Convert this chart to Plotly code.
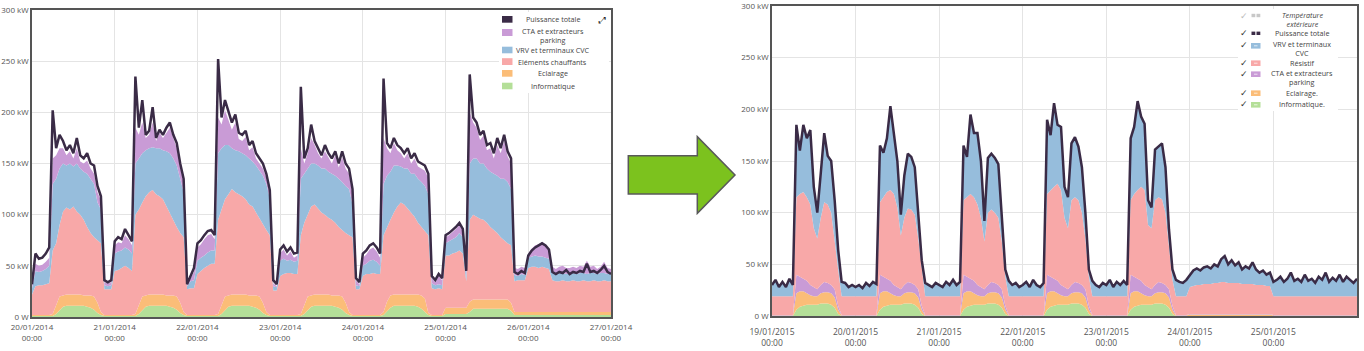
import plotly.graph_objects as go
import pandas as pd

W, H = 1364, 351

# ---------------- data : January 2014 (left chart), hourly, kW ----------------
x_2014 = pd.date_range("2014-01-20 00:00", periods=169, freq="h")

L_info = [
    1,1,1,1,1,1,1,3,7,10,11,11,11,11,11,11,10,9,7,4,2,1,1,1,
    1,1,1,1,1,1,1,3,7,10,11,11,11,11,11,11,10,9,7,4,2,1,1,1,
    1,1,1,1,1,1,1,3,7,10,11,11,11,11,11,11,10,9,7,4,2,1,1,1,
    1,1,1,1,1,1,1,3,7,10,11,11,11,11,11,11,10,9,7,4,2,1,1,1,
    1,1,1,1,1,1,2,6,9,11,11,11,11,11,11,11,10,8,5,2,1,1,1,1,
    3,3,3,3,3,3,3,5,8,8,8,8,8,8,8,8,8,8,8,6,2,2,2,2,
    2,2,2,2,2,2,2,2,2,2,2,2,2,2,2,2,2,2,2,2,2,2,2,2,2]
L_ecl = [
    1,1,1,1,1,1,2,9,13,11,11,11,11,11,11,10,11,12,13,10,3,1,1,1,
    1,1,1,1,1,1,2,9,13,11,11,11,11,11,11,10,11,12,13,10,3,1,1,1,
    1,1,1,1,1,1,2,9,13,11,11,11,11,11,11,10,11,12,13,10,3,1,1,1,
    1,1,1,1,1,1,2,9,13,11,11,11,11,11,11,10,11,12,13,10,3,1,1,1,
    1,1,1,1,1,1,3,9,12,11,11,11,11,11,11,11,12,13,13,2,1,1,1,1,
    6,6,6,6,6,6,6,10,9,9,9,9,9,9,9,9,9,9,9,8,3,3,3,3,
    3,3,3,3,3,3,3,3,3,3,3,3,3,3,3,3,3,3,3,3,3,3,3,3,3]
L_chauf = [
    20,28,29,29,30,31,62,60,70,82,85,83,86,81,78,74,67,61,58,61,67,25,25,25,
    43,44,46,48,46,43,97,93,92,97,100,102,98,96,93,87,81,74,68,68,73,25,26,26,
    40,43,46,48,50,50,92,93,95,99,103,100,98,96,93,89,87,81,76,76,80,78,24,24,
    38,40,41,41,40,40,77,80,80,87,88,84,80,78,75,74,71,67,65,68,75,76,25,25,
    38,40,40,41,40,40,75,73,74,80,86,90,88,84,80,76,70,67,66,76,26,25,26,25,
    51,51,53,54,56,53,26,80,83,81,79,78,75,71,68,65,61,58,55,56,30,31,31,31,
    43,44,44,43,44,43,42,31,30,30,31,30,30,31,30,30,31,30,30,31,30,30,31,30,30]
L_vrv = [
    6,15,13,14,15,17,65,63,55,47,41,45,39,47,45,47,52,53,52,37,33,4,3,4,
    17,18,17,18,18,17,50,50,48,45,43,42,45,47,48,54,58,60,60,53,44,3,7,8,
    13,13,12,13,13,13,65,60,53,48,40,41,42,42,43,45,44,46,47,48,45,36,4,3,
    15,15,12,13,12,13,55,48,45,42,40,42,43,45,45,45,46,47,47,46,45,32,4,3,
    10,10,13,13,12,8,50,50,47,46,40,35,35,39,38,42,43,44,44,40,5,4,4,4,
    12,14,14,15,17,16,5,55,55,57,54,55,53,54,55,56,57,60,60,55,6,4,6,5,
    10,10,11,11,10,10,10,7,7,8,7,7,8,7,7,8,7,7,8,7,7,8,7,7,7]
L_cta = [
    3,7,6,6,7,8,25,23,20,15,10,12,8,15,7,8,13,10,10,10,9,3,3,3,
    8,9,7,12,10,8,35,23,30,12,13,24,7,15,12,18,25,20,17,11,10,2,3,8,
    13,13,16,17,16,11,35,23,34,24,18,27,12,12,18,8,14,7,7,7,6,5,3,1,
    7,9,5,8,4,5,30,10,15,25,18,12,10,17,14,10,20,11,24,17,15,10,5,2,
    8,9,11,12,10,8,45,27,18,22,15,13,10,15,10,15,12,13,15,16,5,3,8,5,
    6,6,7,8,8,6,4,50,35,30,23,27,18,23,15,30,25,37,25,25,7,7,7,7,
    4,8,10,12,14,12,8,6,5,6,7,6,5,6,6,7,6,13,6,7,5,6,11,6,5]
L_tot = [
    32,62,57,58,62,68,202,165,178,172,163,168,160,175,158,155,160,150,148,128,118,36,34,36,
    74,78,76,86,80,74,235,185,212,178,182,205,175,183,178,185,190,178,170,150,135,32,40,48,
    72,75,80,84,85,80,252,195,212,200,190,198,180,178,182,168,172,160,155,150,140,124,36,32,
    66,70,64,68,62,63,225,155,165,188,172,165,158,168,160,155,162,150,162,150,145,125,38,34,
    62,65,70,72,68,62,233,170,165,175,168,165,160,165,155,160,152,150,148,140,40,36,42,38,
    80,82,85,88,92,86,45,237,195,190,178,182,168,170,160,175,165,178,162,155,44,42,45,43,
    60,65,68,70,72,70,66,44,42,44,43,46,42,44,43,45,44,52,44,45,43,46,50,44,42]

# ---------------- data : January 2015 (right chart), hourly, kW ----------------
x_2015 = pd.date_range("2015-01-19 00:00", periods=169, freq="h")

R_info = [
    0,0,0,0,0,0,0,6,9,10,11,11,11,11,12,12,12,11,8,2,0,0,0,0,
    0,0,0,0,0,0,0,6,9,10,11,11,11,11,12,12,12,11,8,2,0,0,0,0,
    0,0,0,0,0,0,0,6,9,10,11,11,11,11,12,12,12,11,8,2,0,0,0,0,
    0,0,0,0,0,0,0,6,9,10,11,11,11,11,12,12,12,11,8,2,0,0,0,0,
    0,0,0,0,0,0,0,6,9,10,11,11,11,11,12,12,12,11,8,2,0,0,0,0,
    0.5,0.5,0.5,0.5,0.5,0.5,0.5,0.5,0.5,0.5,0.5,0.5,0.5,0.5,0.5,0.5,0.5,0.5,0.5,0.5,0.5,0.5,0.5,0.5,
    0,0,0,0,0,0,0,0,0,0,0,0,0,0,0,0,0,0,0,0,0,0,0,0,0]
R_ecl = [
    0.5,0.5,0.5,0.5,0.5,0.5,0.5,16,15,14,11,9,8,8,10,11,11,11,10,4,0.5,0.5,0.5,0.5,
    0.5,0.5,0.5,0.5,0.5,0.5,0.5,16,15,14,11,9,8,8,10,11,11,11,10,4,0.5,0.5,0.5,0.5,
    0.5,0.5,0.5,0.5,0.5,0.5,0.5,16,15,14,11,9,8,8,10,11,11,11,10,4,0.5,0.5,0.5,0.5,
    0.5,0.5,0.5,0.5,0.5,0.5,0.5,16,15,14,11,9,8,8,10,11,11,11,10,4,0.5,0.5,0.5,0.5,
    0.5,0.5,0.5,0.5,0.5,0.5,0.5,16,15,14,11,9,8,8,10,11,11,11,10,4,0.5,0.5,0.5,0.5,
    1,1,1,1,1,1,1,1,1,1,1,1,1,1,1,1,1,1,1,1,1,1,1,1,
    0.5,0.5,0.5,0.5,0.5,0.5,0.5,0.5,0.5,0.5,0.5,0.5,0.5,0.5,0.5,0.5,0.5,0.5,0.5,0.5,0.5,0.5,0.5,0.5,0.5]
R_cta = [
    0.5,0.5,0.5,0.5,0.5,0.5,0.5,18,14,12,12,10,9,7,8,10,9,8,8,4,0.5,0.5,0.5,0.5,
    0.5,0.5,0.5,0.5,0.5,0.5,0.5,18,14,12,12,10,9,7,8,10,9,8,8,4,0.5,0.5,0.5,0.5,
    0.5,0.5,0.5,0.5,0.5,0.5,0.5,18,14,12,12,10,9,7,8,10,9,8,8,4,0.5,0.5,0.5,0.5,
    0.5,0.5,0.5,0.5,0.5,0.5,0.5,18,14,12,12,10,9,7,8,10,9,8,8,4,0.5,0.5,0.5,0.5,
    0.5,0.5,0.5,0.5,0.5,0.5,0.5,18,14,12,12,10,9,7,8,10,9,8,8,4,0.5,0.5,0.5,0.5,
    0.5,0.5,0.5,0.5,0.5,0.5,0.5,0.5,0.5,0.5,0.5,0.5,0.5,0.5,0.5,0.5,0.5,0.5,0.5,0.5,0.5,0.5,0.5,0.5,
    0.5,0.5,0.5,0.5,0.5,0.5,0.5,0.5,0.5,0.5,0.5,0.5,0.5,0.5,0.5,0.5,0.5,0.5,0.5,0.5,0.5,0.5,0.5,0.5,0.5]
R_res = [
    18,18,18,18,18,18,18,75,80,84,81,78,57,49,65,77,76,70,49,35,18,18,18,18,
    18,18,18,18,18,18,18,70,77,84,88,88,77,52,65,71,71,68,49,35,18,18,18,18,
    18,18,18,18,18,18,18,72,77,82,81,78,67,46,70,70,68,65,46,28,18,18,18,18,
    18,18,18,18,18,18,18,78,84,89,94,92,67,59,82,82,80,70,49,28,18,18,18,18,
    18,18,18,18,18,18,18,72,80,86,91,92,60,59,82,82,81,70,39,25,18,18,18,18,
    26,27,28,28,29,29,29,30,30,31,31,30,30,30,30,29,29,29,29,28,28,28,27,27,
    18,18,18,18,18,18,18,18,18,18,18,18,18,18,18,18,18,18,18,18,18,18,18,18,18]
R_vrv = [
    11,16,9,14,9,17,11,70,42,65,57,72,40,25,43,67,47,50,37,19,14,13,9,11,
    9,11,8,13,10,14,12,55,43,52,81,57,45,20,41,53,51,46,21,9,13,11,9,13,
    11,9,14,11,16,11,14,53,39,77,62,69,55,20,53,54,53,52,24,7,15,11,13,9,
    11,14,9,16,11,9,13,72,53,81,57,61,30,30,55,58,52,44,25,7,15,11,9,13,
    11,16,9,14,11,15,11,60,65,86,68,64,24,20,49,49,54,44,19,10,16,14,13,16,
    12,15,16,14,16,17,15,18,16,22,25,18,22,17,20,14,17,15,21,15,12,14,11,13,
    14,16,19,14,17,23,15,17,14,21,15,17,13,19,16,23,14,18,15,21,14,19,16,13,17]
R_tot = [
    30,35,28,33,28,36,30,185,160,185,172,180,125,100,138,177,155,150,112,64,33,32,28,30,
    28,30,27,32,29,33,31,165,158,172,203,175,150,98,136,157,154,144,96,54,32,30,28,32,
    30,28,33,30,35,30,33,165,154,195,177,177,150,92,153,157,153,147,96,45,34,30,32,28,
    30,33,28,35,30,28,32,190,175,206,185,183,125,115,167,173,164,144,100,45,34,30,28,32,
    30,35,28,33,30,34,30,172,183,208,193,186,112,105,161,164,167,144,84,45,35,33,32,35,
    40,44,46,44,47,48,46,50,48,55,58,50,54,49,52,45,48,46,52,45,42,44,40,42,
    33,35,38,33,36,42,34,36,33,40,34,36,32,38,35,42,33,37,34,40,33,38,35,32,36]

# ---------------- ticks ----------------
Y_TICKS = [0, 50, 100, 150, 200, 250, 300]
Y_LABELS = ["0 W", "50 kW", "100 kW", "150 kW", "200 kW", "250 kW", "300 kW"]
X14_TICKS = ["2014-01-20", "2014-01-21", "2014-01-22", "2014-01-23",
             "2014-01-24", "2014-01-25", "2014-01-26", "2014-01-27"]
X14_LABELS = ["20/01/2014<br>00:00", "21/01/2014<br>00:00", "22/01/2014<br>00:00",
              "23/01/2014<br>00:00", "24/01/2014<br>00:00", "25/01/2014<br>00:00",
              "26/01/2014<br>00:00", "27/01/2014<br>00:00"]
X15_TICKS = ["2015-01-19", "2015-01-20", "2015-01-21", "2015-01-22",
             "2015-01-23", "2015-01-24", "2015-01-25"]
X15_LABELS = ["19/01/2015<br>00:00", "20/01/2015<br>00:00", "21/01/2015<br>00:00",
              "22/01/2015<br>00:00", "23/01/2015<br>00:00", "24/01/2015<br>00:00",
              "25/01/2015<br>00:00"]

# ---------------- styles ----------------
DARK = "#3a2b46"
PURPLE = "#c99bd6"
BLUE = "#96bddc"
PINK = "#f8a8a8"
ORANGE = "#fbbd78"
GREEN = "#b4df98"
GRID = "#e4e4e4"
FRAME = "#555555"
FONT = "Open Sans"

fig = go.Figure()

left_layers = [("Informatique", L_info, GREEN), ("Eclairage", L_ecl, ORANGE),
               ("Eléments chauffants", L_chauf, PINK),
               ("VRV et terminaux CVC", L_vrv, BLUE),
               ("CTA et extracteurs parking", L_cta, PURPLE)]
for name, vals, col in left_layers:
    fig.add_trace(go.Scatter(x=x_2014, y=vals, name=name, stackgroup="left",
                             mode="lines", line=dict(width=0, color=col),
                             fillcolor=col, xaxis="x", yaxis="y", showlegend=False))
fig.add_trace(go.Scatter(x=x_2014, y=L_tot, name="Puissance totale", mode="lines",
                         line=dict(width=2.5, color=DARK), xaxis="x", yaxis="y",
                         showlegend=False))

right_layers = [("Informatique.", R_info, GREEN), ("Eclairage.", R_ecl, ORANGE),
                ("CTA et extracteurs parking", R_cta, PURPLE),
                ("Résistif", R_res, PINK), ("VRV et terminaux CVC", R_vrv, BLUE)]
for name, vals, col in right_layers:
    fig.add_trace(go.Scatter(x=x_2015, y=vals, name=name, stackgroup="right",
                             mode="lines", line=dict(width=0, color=col),
                             fillcolor=col, xaxis="x2", yaxis="y2", showlegend=False))
fig.add_trace(go.Scatter(x=x_2015, y=R_tot, name="Puissance totale", mode="lines",
                         line=dict(width=2.5, color=DARK), xaxis="x2", yaxis="y2",
                         showlegend=False))


def px(x):
    return x / W


def py(y):
    return 1 - y / H


axis_common = dict(showgrid=True, gridcolor=GRID, gridwidth=1, zeroline=False,
                   showline=True, mirror=True, linecolor=FRAME, linewidth=1.5,
                   ticks="", automargin=False, ticklabeloverflow="allow",
                   tickfont=dict(family=FONT, size=8, color="#555"))

fig.update_layout(
    width=W, height=H, template="none",
    margin=dict(l=0, r=0, t=0, b=0),
    paper_bgcolor="white", plot_bgcolor="white", showlegend=False,
    font=dict(family=FONT, size=8, color="#444"),
    xaxis=dict(axis_common, domain=[px(32), px(611)], type="date",
               range=["2014-01-20 00:00", "2014-01-27 00:00"], ticklabelstandoff=2,
               tickmode="array", tickvals=X14_TICKS, ticktext=X14_LABELS, anchor="y"),
    yaxis=dict(axis_common, domain=[py(317), py(10)], range=[0, 300],
               tickmode="array", tickvals=Y_TICKS, ticktext=Y_LABELS, anchor="x"),
    xaxis2=dict(axis_common, domain=[px(772), px(1357)], type="date",
                range=["2015-01-19 00:00", "2015-01-26 00:00"], ticklabelstandoff=7,
                tickmode="array", tickvals=X15_TICKS, ticktext=X15_LABELS, anchor="y2"),
    yaxis2=dict(axis_common, domain=[py(316), py(6)], range=[0, 300],
                tickmode="array", tickvals=Y_TICKS, ticktext=Y_LABELS, anchor="x2"),
)
fig.update_xaxes(selector=dict(anchor="y2"), tickfont=dict(family=FONT, size=8.5, color="#555"))

shapes = []
annotations = []

# arrow between the two charts
arrow_pts = [(628.3, 155.7), (697.3, 155.7), (697.3, 136.7), (735, 175),
             (697.3, 213.3), (697.3, 194), (628.3, 194)]
path = "M " + " L ".join(f"{px(a):.5f},{py(b):.5f}" for a, b in arrow_pts) + " Z"
shapes.append(dict(type="path", path=path, xref="paper", yref="paper",
                   fillcolor="#7cc21e", line=dict(color="#595959", width=1.5),
                   layer="above"))

# ---------- left legend ----------
shapes.append(dict(type="rect", xref="paper", yref="paper", x0=px(499), x1=px(609),
                   y0=py(93), y1=py(12), fillcolor="white", line=dict(width=0),
                   layer="above"))
left_leg = [(DARK, 16, 22.7, "Puissance totale", 19.3),
            (PURPLE, 29, 36, "CTA et extracteurs<br>parking", 35.3),
            (BLUE, 46.7, 53.3, "VRV et terminaux CVC", 50),
            (PINK, 58.2, 65, "Eléments chauffants", 61.7),
            (ORANGE, 70, 76.7, "Eclairage", 73.3),
            (GREEN, 82.7, 89.3, "Informatique", 85.8)]
for col, y0, y1, t, yy in left_leg:
    shapes.append(dict(type="rect", xref="paper", yref="paper", x0=px(502), x1=px(512.5),
                       y0=py(y1), y1=py(y0), fillcolor=col, line=dict(width=0),
                       layer="above"))
    annotations.append(dict(text=t, x=px(552.5), y=py(yy), xref="paper", yref="paper",
                            xanchor="center", yanchor="middle", showarrow=False,
                            font=dict(family=FONT, size=7.2, color="#444")))
annotations.append(dict(text="⤢", x=px(601.5), y=py(20), xref="paper", yref="paper",
                        xanchor="center", yanchor="middle", showarrow=False,
                        font=dict(size=9, color="#222")))

# ---------- right legend ----------
shapes.append(dict(type="rect", xref="paper", yref="paper", x0=px(1238), x1=px(1338),
                   y0=py(111), y1=py(9), fillcolor="white", line=dict(width=0),
                   layer="above"))
right_leg = [("#c8c8c8", 15.5, "dash", "Température<br>extérieure", 19.5, 15.7, True),
             (DARK, 33.3, "dash", "Puissance totale", 33.3, 33.3, False),
             (BLUE, 45.8, "box", "VRV et terminaux<br>CVC", 48.5, 44.7, False),
             (PINK, 63.2, "box", "Résistif", 62.7, 62.7, False),
             (PURPLE, 74.2, "box", "CTA et extracteurs<br>parking", 77.9, 74, False),
             (ORANGE, 93.2, "box", "Eclairage.", 92.7, 92.7, False),
             (GREEN, 104.8, "box", "Informatique.", 104.3, 104.3, False)]
for col, yc, kind, t, yy, ychk, off in right_leg:
    annotations.append(dict(text="✓", x=px(1243.5), y=py(ychk), xref="paper", yref="paper",
                            xanchor="center", yanchor="middle", showarrow=False,
                            font=dict(family="DejaVu Sans", size=9,
                                      color="#bbbbbb" if off else "#333")))
    if kind == "dash":
        for a, b in [(1251.5, 1255.3), (1256.5, 1260.3)]:
            shapes.append(dict(type="rect", xref="paper", yref="paper", x0=px(a), x1=px(b),
                               y0=py(yc + 1.7), y1=py(yc - 1.7), fillcolor=col,
                               line=dict(width=0), layer="above"))
    else:
        shapes.append(dict(type="rect", xref="paper", yref="paper", x0=px(1251), x1=px(1260.5),
                           y0=py(yc + 2.8), y1=py(yc - 2.8), fillcolor=col,
                           line=dict(width=0), layer="above"))
        shapes.append(dict(type="line", xref="paper", yref="paper", x0=px(1254), x1=px(1257.5),
                           y0=py(yc), y1=py(yc), line=dict(color="rgba(255,255,255,0.7)", width=1),
                           layer="above"))
    txt = f"<i>{t}</i>" if off else t
    annotations.append(dict(text=txt, x=px(1302), y=py(yy), xref="paper", yref="paper",
                            xanchor="center", yanchor="middle", showarrow=False,
                            font=dict(family=FONT, size=7.2, color="#444")))

fig.update_layout(shapes=shapes, annotations=annotations)
fig.write_html("out.html")
